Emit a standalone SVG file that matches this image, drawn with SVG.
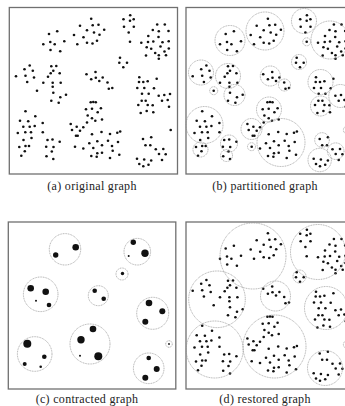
<svg xmlns="http://www.w3.org/2000/svg" width="345" height="406" viewBox="0 0 345 406">
<style>
.frame{fill:none;stroke:#707070;stroke-width:1.3}
.dot{fill:#111}
.grp{fill:none;stroke:#8c8c8c;stroke-width:0.7;stroke-dasharray:1 0.7}
.cap{font-family:"Liberation Serif","Times New Roman",serif;font-size:12px;letter-spacing:0.3px;fill:#222;text-anchor:middle}
</style>
<defs>
<g id="pts" class="dot">
<circle cx="49" cy="34" r="1.3"/><circle cx="57.2" cy="31.3" r="1.3"/><circle cx="43.3" cy="44.2" r="1.3"/><circle cx="50.3" cy="42" r="1.3"/><circle cx="54.7" cy="44.2" r="1.3"/><circle cx="64.3" cy="41.3" r="1.3"/><circle cx="50.5" cy="50" r="1.3"/><circle cx="60.2" cy="51.3" r="1.3"/>
<circle cx="91.2" cy="18.8" r="1.3"/><circle cx="80" cy="25.8" r="1.3"/><circle cx="92.7" cy="25.3" r="1.3"/><circle cx="98.5" cy="24.7" r="1.3"/><circle cx="87" cy="30.2" r="1.3"/><circle cx="74" cy="35" r="1.3"/><circle cx="83.5" cy="37.3" r="1.3"/><circle cx="94" cy="32.5" r="1.3"/><circle cx="99.5" cy="34.7" r="1.3"/><circle cx="104.2" cy="29.7" r="1.3"/><circle cx="77.3" cy="44.3" r="1.3"/><circle cx="87" cy="42.8" r="1.3"/><circle cx="92.5" cy="43.5" r="1.3"/><circle cx="97" cy="40.8" r="1.3"/>
<circle cx="130.2" cy="15.2" r="1.3"/><circle cx="123.5" cy="19.3" r="1.3"/><circle cx="130" cy="20.8" r="1.3"/><circle cx="133.7" cy="19.3" r="1.3"/><circle cx="124" cy="26.7" r="1.3"/><circle cx="133.8" cy="26.7" r="1.3"/><circle cx="128.7" cy="32.5" r="1.3"/><circle cx="130" cy="41.8" r="1.3"/>
<circle cx="157.2" cy="24.5" r="1.3"/><circle cx="164.8" cy="24.5" r="1.3"/><circle cx="152.8" cy="30" r="1.3"/><circle cx="158.8" cy="31.3" r="1.3"/><circle cx="168.5" cy="31" r="1.3"/><circle cx="148.3" cy="36" r="1.3"/><circle cx="158.5" cy="37" r="1.3"/><circle cx="141.3" cy="42.7" r="1.3"/><circle cx="148" cy="42" r="1.3"/><circle cx="153.3" cy="41.5" r="1.3"/><circle cx="162.5" cy="42.3" r="1.3"/><circle cx="168.7" cy="41.3" r="1.3"/><circle cx="146.7" cy="47.3" r="1.3"/><circle cx="151.2" cy="48.8" r="1.3"/><circle cx="160.5" cy="46.5" r="1.3"/><circle cx="155.2" cy="53" r="1.3"/><circle cx="164.5" cy="51.5" r="1.3"/><circle cx="168.8" cy="48.5" r="1.3"/><circle cx="146" cy="55.5" r="1.3"/><circle cx="158.8" cy="55.3" r="1.3"/><circle cx="166" cy="55.3" r="1.3"/><circle cx="158.8" cy="58.7" r="1.3"/>
<circle cx="120" cy="57.7" r="1.3"/><circle cx="119.3" cy="62.7" r="1.3"/><circle cx="127" cy="62.7" r="1.3"/><circle cx="123.3" cy="67.3" r="1.3"/>
<circle cx="24.5" cy="69.3" r="1.3"/><circle cx="29.7" cy="65.5" r="1.3"/><circle cx="32.8" cy="70.7" r="1.3"/><circle cx="16" cy="76.2" r="1.3"/><circle cx="25.5" cy="75.8" r="1.3"/><circle cx="34" cy="77.5" r="1.3"/><circle cx="27.2" cy="82" r="1.3"/><circle cx="37" cy="90.7" r="1.3"/>
<circle cx="51.3" cy="66.3" r="1.3"/><circle cx="56.3" cy="66" r="1.3"/><circle cx="53.3" cy="70.7" r="1.3"/><circle cx="50.7" cy="73.3" r="1.3"/><circle cx="59.7" cy="73.3" r="1.3"/><circle cx="48" cy="76.7" r="1.3"/><circle cx="43.3" cy="82.7" r="1.3"/><circle cx="52.7" cy="82.7" r="1.3"/><circle cx="60.7" cy="82.7" r="1.3"/><circle cx="52.7" cy="86.7" r="1.3"/><circle cx="53.3" cy="92.7" r="1.3"/><circle cx="60.3" cy="97.3" r="1.3"/><circle cx="66" cy="94.7" r="1.3"/><circle cx="51.3" cy="100.7" r="1.3"/><circle cx="58.7" cy="102.7" r="1.3"/>
<circle cx="86.5" cy="74.2" r="1.3"/><circle cx="95.5" cy="72" r="1.3"/><circle cx="91.2" cy="79.3" r="1.3"/><circle cx="95.8" cy="77.8" r="1.3"/><circle cx="99.3" cy="81" r="1.3"/><circle cx="102.7" cy="77.5" r="1.3"/><circle cx="107.5" cy="82.5" r="1.3"/><circle cx="108.8" cy="88.8" r="1.3"/><circle cx="112.3" cy="88" r="1.3"/>
<circle cx="139.3" cy="77.3" r="1.3"/><circle cx="139" cy="82" r="1.3"/><circle cx="143.3" cy="82" r="1.3"/><circle cx="147.7" cy="81.3" r="1.3"/><circle cx="156.7" cy="78.7" r="1.3"/><circle cx="137.3" cy="88" r="1.3"/><circle cx="144.3" cy="88" r="1.3"/><circle cx="154" cy="88.3" r="1.3"/><circle cx="142" cy="93.7" r="1.3"/><circle cx="148.7" cy="93.7" r="1.3"/><circle cx="158.7" cy="95.7" r="1.3"/><circle cx="164.3" cy="95" r="1.3"/><circle cx="170" cy="94" r="1.3"/><circle cx="167.7" cy="100" r="1.3"/><circle cx="162" cy="100.7" r="1.3"/><circle cx="141.7" cy="100.7" r="1.3"/><circle cx="145.7" cy="100.7" r="1.3"/><circle cx="138.3" cy="105" r="1.3"/><circle cx="147.7" cy="105" r="1.3"/><circle cx="152.7" cy="105.3" r="1.3"/><circle cx="169" cy="106.7" r="1.3"/><circle cx="140.7" cy="113" r="1.3"/><circle cx="146.7" cy="111" r="1.3"/><circle cx="153.3" cy="112.3" r="1.3"/>
<circle cx="25.5" cy="111.3" r="1.3"/><circle cx="20" cy="120.7" r="1.3"/><circle cx="28.2" cy="121.3" r="1.3"/><circle cx="35.3" cy="116.2" r="1.3"/><circle cx="23.3" cy="126.7" r="1.3"/><circle cx="29.7" cy="126.7" r="1.3"/><circle cx="34.7" cy="126" r="1.3"/><circle cx="17.8" cy="133" r="1.3"/><circle cx="25.3" cy="132.3" r="1.3"/><circle cx="31" cy="132.2" r="1.3"/><circle cx="23.5" cy="140" r="1.3"/><circle cx="31.5" cy="138" r="1.3"/><circle cx="19.3" cy="147" r="1.3"/><circle cx="25.5" cy="146" r="1.3"/><circle cx="29" cy="146" r="1.3"/><circle cx="24.8" cy="151.3" r="1.3"/><circle cx="21.3" cy="155.8" r="1.3"/>
<circle cx="42.7" cy="123" r="1.3"/><circle cx="42.8" cy="132.2" r="1.3"/><circle cx="47.5" cy="140" r="1.3"/><circle cx="52.5" cy="139.5" r="1.3"/><circle cx="59.7" cy="141.7" r="1.3"/><circle cx="46.2" cy="146.7" r="1.3"/><circle cx="53.5" cy="147" r="1.3"/><circle cx="51.8" cy="151.5" r="1.3"/><circle cx="46.5" cy="156.2" r="1.3"/><circle cx="53.3" cy="159" r="1.3"/>
<circle cx="90.7" cy="102.3" r="1.3"/><circle cx="93.3" cy="102" r="1.3"/><circle cx="95.8" cy="102.3" r="1.3"/><circle cx="86" cy="109.3" r="1.3"/><circle cx="92" cy="108.8" r="1.3"/><circle cx="100.9" cy="108.2" r="1.3"/><circle cx="87.7" cy="115.5" r="1.3"/><circle cx="97.7" cy="112.3" r="1.3"/><circle cx="92" cy="118.3" r="1.3"/><circle cx="95.3" cy="120.7" r="1.3"/><circle cx="102" cy="119.5" r="1.3"/><circle cx="87" cy="122.5" r="1.3"/><circle cx="70.7" cy="124" r="1.3"/><circle cx="76.7" cy="126.7" r="1.3"/><circle cx="83.3" cy="127.3" r="1.3"/><circle cx="72" cy="130" r="1.3"/><circle cx="80" cy="130.7" r="1.3"/><circle cx="76" cy="135.7" r="1.3"/><circle cx="77.7" cy="135.7" r="1.3"/><circle cx="92" cy="134.2" r="1.3"/><circle cx="101.5" cy="132" r="1.3"/><circle cx="110" cy="134" r="1.3"/><circle cx="117.3" cy="132.8" r="1.3"/><circle cx="120.2" cy="131.5" r="1.3"/><circle cx="89.3" cy="143.3" r="1.3"/><circle cx="75" cy="146.7" r="1.3"/><circle cx="83.3" cy="148.5" r="1.3"/><circle cx="97.3" cy="141.3" r="1.3"/><circle cx="108" cy="140.7" r="1.3"/><circle cx="118" cy="142" r="1.3"/><circle cx="93.3" cy="148" r="1.3"/><circle cx="102" cy="145.3" r="1.3"/><circle cx="112" cy="146" r="1.3"/><circle cx="112.7" cy="150.7" r="1.3"/><circle cx="97.3" cy="153.3" r="1.3"/><circle cx="102" cy="152.7" r="1.3"/><circle cx="91.3" cy="156" r="1.3"/><circle cx="96.7" cy="156.7" r="1.3"/><circle cx="110" cy="158" r="1.3"/><circle cx="119.3" cy="154.7" r="1.3"/>
<circle cx="170.7" cy="130" r="1.3"/><circle cx="143" cy="139" r="1.3"/><circle cx="151.2" cy="137.3" r="1.3"/><circle cx="145.5" cy="145.3" r="1.3"/><circle cx="150.3" cy="145.3" r="1.3"/><circle cx="155.8" cy="149.3" r="1.3"/><circle cx="163.3" cy="149" r="1.3"/><circle cx="159" cy="154" r="1.3"/><circle cx="165.7" cy="154.3" r="1.3"/><circle cx="137" cy="158.7" r="1.3"/><circle cx="144.2" cy="159.5" r="1.3"/><circle cx="151.2" cy="160.5" r="1.3"/><circle cx="162" cy="160" r="1.3"/><circle cx="139.3" cy="164" r="1.3"/><circle cx="143.3" cy="166.2" r="1.3"/><circle cx="148.5" cy="164.8" r="1.3"/>
</g>
</defs>

<g id="panel-a">
<rect class="frame" x="9.3" y="7.5" width="168.2" height="166.5"/>
<use href="#pts"/>
<text class="cap" x="92" y="189.5">(a) original graph</text>
</g>

<g id="panel-b">
<rect class="frame" x="186" y="7.5" width="170" height="166.5"/>
<use href="#pts" transform="translate(176.7,0)"/>
<g class="grp">
<circle cx="230" cy="40.5" r="15"/><circle cx="265" cy="31" r="19"/><circle cx="304" cy="21" r="12.5"/><circle cx="306.7" cy="41.8" r="4"/><circle cx="330" cy="40" r="19"/><circle cx="299" cy="62" r="7.5"/>
<circle cx="201" cy="72.5" r="12.5"/><circle cx="228" cy="76" r="12.5"/><circle cx="234.5" cy="95" r="10.5"/><circle cx="213.7" cy="90.7" r="4"/><circle cx="270.3" cy="76" r="10"/><circle cx="284.5" cy="85" r="6"/>
<circle cx="320.5" cy="82" r="12.5"/><circle cx="340.3" cy="96" r="11.5"/><circle cx="320.5" cy="106" r="10"/>
<circle cx="204.5" cy="125" r="18.5"/><circle cx="200.5" cy="149.5" r="7.5"/><circle cx="229" cy="143.5" r="8.5"/><circle cx="226.5" cy="155.5" r="6"/><circle cx="251.5" cy="146.7" r="4"/>
<circle cx="269" cy="109.5" r="12.5"/><circle cx="251.5" cy="129" r="10.5"/><circle cx="281" cy="142.5" r="24"/>
<circle cx="322" cy="140" r="7.3"/><circle cx="335.7" cy="151.2" r="8.3"/><circle cx="319.7" cy="160" r="11.7"/><circle cx="347.4" cy="130" r="4"/>
</g>
<text class="cap" x="265" y="189.5">(b) partitioned graph</text>
</g>

<g id="panel-c">
<rect class="frame" x="8.3" y="222" width="167.5" height="167"/>
<g class="grp">
<circle cx="65" cy="249.3" r="15.7"/><circle cx="137.3" cy="251.7" r="13.3"/><circle cx="122" cy="274" r="6"/><circle cx="40.7" cy="294.3" r="17.3"/><circle cx="98.3" cy="295.7" r="10"/><circle cx="152.7" cy="313.3" r="16"/><circle cx="90" cy="344" r="20"/><circle cx="34.7" cy="354" r="17.3"/><circle cx="169" cy="344" r="3.3"/><circle cx="148.7" cy="368.3" r="15.3"/>
</g>
<g class="dot">
<circle cx="75.7" cy="247.3" r="3.3"/><circle cx="55.7" cy="255" r="2.7"/>
<circle cx="133.3" cy="242.3" r="2.7"/><circle cx="145" cy="253.3" r="3.7"/><circle cx="128.7" cy="256" r="1"/>
<circle cx="122.5" cy="273.5" r="1.7"/>
<circle cx="30.7" cy="288.3" r="3.3"/><circle cx="45.7" cy="291.7" r="3.3"/><circle cx="36" cy="300.7" r="1"/><circle cx="49" cy="305" r="2.3"/>
<circle cx="94.7" cy="290.7" r="2.3"/><circle cx="103.7" cy="298.7" r="2.3"/>
<circle cx="149" cy="303" r="3.3"/><circle cx="162.3" cy="311.3" r="3"/><circle cx="145.3" cy="321.7" r="3"/>
<circle cx="93" cy="329" r="3.3"/><circle cx="81" cy="339.7" r="3.7"/><circle cx="98.3" cy="356.3" r="4"/><circle cx="80" cy="355.7" r="1"/>
<circle cx="27.3" cy="343.7" r="4"/><circle cx="44.3" cy="356.7" r="2.3"/><circle cx="24.7" cy="364" r="2"/><circle cx="40.7" cy="366.7" r="1.3"/>
<circle cx="169" cy="344" r="0.9"/>
<circle cx="148.7" cy="358" r="2.3"/><circle cx="156.7" cy="369" r="3"/><circle cx="145.3" cy="377.7" r="3"/>
</g>
<text class="cap" x="87" y="403">(c) contracted graph</text>
</g>

<g id="panel-d">
<rect class="frame" x="186" y="222" width="170" height="167"/>
<use href="#pts" transform="translate(176.7,214.5)"/>
<g class="grp">
<circle cx="253" cy="256" r="33"/><circle cx="318" cy="252" r="27.5"/><circle cx="299.5" cy="276.5" r="6.5"/><circle cx="217" cy="299.3" r="28.3"/><circle cx="275.5" cy="296" r="15"/><circle cx="326" cy="308" r="21.5"/><circle cx="214.7" cy="349.5" r="28.5"/><circle cx="274.5" cy="346.5" r="31.5"/><circle cx="325" cy="368" r="17.5"/><circle cx="347.4" cy="344.5" r="4"/>
</g>
<text class="cap" x="265" y="403">(d) restored graph</text>
</g>
</svg>
